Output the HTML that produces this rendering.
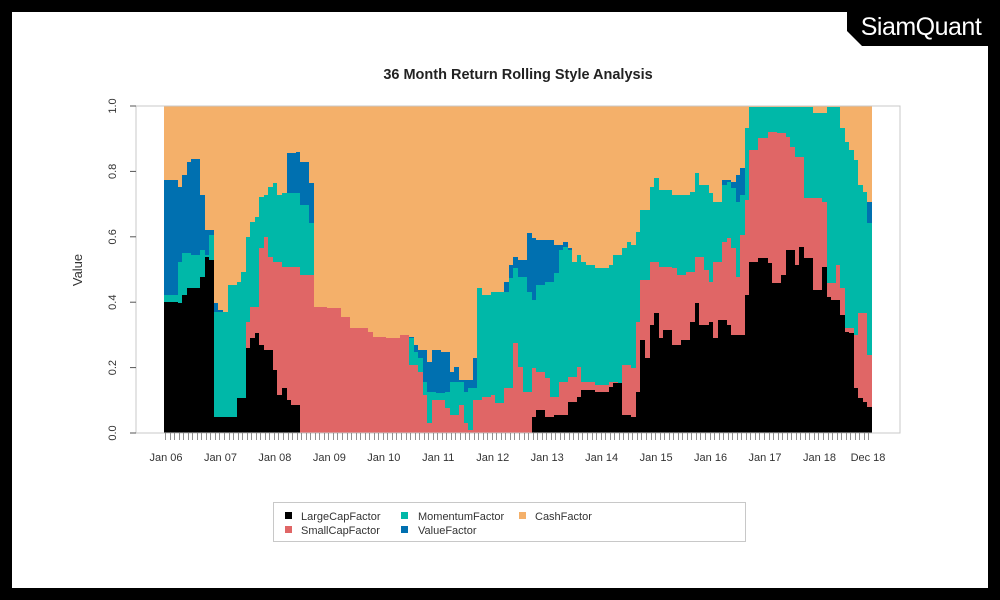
<!DOCTYPE html>
<html><head><meta charset="utf-8">
<style>
html,body{margin:0;padding:0;background:#000;}
#c{position:relative;width:1000px;height:600px;overflow:hidden;background:#000;font-family:"Liberation Sans",Arial,sans-serif;}
#bars rect{shape-rendering:crispEdges;}
</style></head>
<body><div id="c">
<svg id="s" width="1000" height="600" xmlns="http://www.w3.org/2000/svg" style="position:absolute;left:0;top:0">
<rect x="12" y="12" width="976" height="576" fill="#fff"/>
<polygon points="847,0 1000,0 1000,46 862,46 847,31" fill="#000"/>
<text x="921" y="35" text-anchor="middle" font-family="Liberation Sans, sans-serif" font-size="25" fill="#fff" letter-spacing="-0.5">SiamQuant</text>
<text x="518" y="79" text-anchor="middle" font-size="14.5" font-weight="bold" fill="#222">36 Month Return Rolling Style Analysis</text>
<g id="bars"></g>
<rect x="136" y="106" width="764" height="327" fill="none" stroke="#c8c8c8" stroke-width="1"/>
<g id="ax" font-size="11" fill="#333"></g>
<text transform="translate(82,270) rotate(-90)" text-anchor="middle" font-size="13" fill="#333">Value</text>
<rect x="273.5" y="502.5" width="472" height="39" fill="#fff" stroke="#c8c8c8"/>
<g font-size="11" fill="#333">
<rect x="285" y="512" width="7" height="7" fill="#000"/><text x="301" y="520">LargeCapFactor</text>
<rect x="285" y="526" width="7" height="7" fill="#e06666"/><text x="301" y="534">SmallCapFactor</text>
<rect x="401" y="512" width="7" height="7" fill="#00b8a8"/><text x="418" y="520">MomentumFactor</text>
<rect x="401" y="526" width="7" height="7" fill="#0070b0"/><text x="418" y="534">ValueFactor</text>
<rect x="519" y="512" width="7" height="7" fill="#f4b06a"/><text x="535" y="520">CashFactor</text>
</g>
</svg>
</div>
<script>
var offs={1:[140,95],2:[380,95],3:[630,95]};
function conv(a){return a.map(function(t){var o=offs[t[0]];var X=o[0]+t[1]/3;var Y=t[2]>=9000?9999:o[1]+t[2]/3;return [(X-164)/4.538,Y];});}
var B1=conv([[1,73,620],[1,110,625],[1,120,645],[1,128,600],[1,140,578],[1,185,545],[1,195,485],[1,210,495],[1,220,965],[1,290,910],[1,318,760],[1,330,730],[1,345,715],[1,360,750],[1,375,765],[1,400,825],[1,410,900],[1,425,880],[1,440,915],[1,455,930],[1,480,1013],
[2,455,965],[2,470,945],[2,500,965],[2,520,960],[2,565,920],[2,590,905],[2,610,885],[2,640,890],[2,680,875],[2,700,865],[2,730,960],
[3,0,965],[3,20,890],[3,35,735],[3,45,790],[3,60,690],[3,75,655],[3,90,730],[3,105,705],[3,125,750],[3,150,735],[3,180,680],[3,200,625],[3,215,690],[3,230,680],[3,245,730],[3,265,675],[3,290,690],[3,310,720],[3,330,720],[3,345,600],[3,360,500],[3,390,490],[3,410,505],[3,425,565],[3,455,540],[3,470,465],[3,495,510],[3,510,455],[3,525,490],[3,550,585],[3,570,570],[3,580,515],[3,590,605],[3,610,615],[3,630,660],[3,640,710],[3,655,715],[3,670,880],[3,685,910],[3,700,920],[3,715,935]]);
var B2=conv([[1,73,9999],[1,318,680],[1,330,635],[1,355,460],[1,375,425],[1,385,485],[1,400,500],[1,420,515],[1,480,540],[1,520,635],[1,560,640],[1,600,665],[1,630,700],[1,680,710],[1,700,725],[1,735,730],
[2,60,720],[2,85,810],[2,110,830],[2,130,900],[2,145,985],[2,160,915],[2,195,940],[2,215,960],[2,235,930],[2,250,985],[2,265,1005],[2,280,915],[2,300,905],[2,330,900],[2,345,925],[2,375,880],[2,400,745],[2,415,815],[2,430,890],[2,450,820],[2,470,830],[2,490,850],[2,510,905],[2,540,860],[2,570,845],[2,595,815],[2,610,860],[2,640,870],[2,680,860],[2,720,880],[2,730,810],
[3,0,820],[3,20,680],[3,35,555],[3,60,500],[3,80,515],[3,120,520],[3,140,540],[3,170,530],[3,200,485],[3,220,525],[3,240,560],[3,255,500],[3,270,440],[3,285,430],[3,300,460],[3,320,545],[3,330,420],[3,345,315],[3,360,165],[3,385,130],[3,410,110],[3,440,115],[3,465,125],[3,480,155],[3,495,185],[3,515,215],[3,525,310],[3,550,310],[3,570,320],[3,585,350],[3,590,565],[3,620,510],[3,630,580],[3,645,700],[3,670,720],[3,690,655],[3,710,660],[3,715,780]]);
var B3=conv([[1,73,600],[1,110,615],[1,115,500],[1,130,475],[1,155,480],[1,185,465],[1,195,480],[1,205,420],[1,220,650],[1,265,570],[1,290,560],[1,305,530],[1,320,425],[1,330,380],[1,345,365],[1,360,305],[1,375,300],[1,390,275],[1,405,265],[1,410,300],[1,430,295],[1,480,330],[1,500,330],[1,510,385],[1,520,9999],
[2,85,730],[2,100,770],[2,110,790],[2,130,860],[2,140,890],[2,175,895],[2,195,890],[2,205,860],[2,235,860],[2,250,890],[2,270,880],[2,285,835],[2,292,580],[2,310,600],[2,330,590],[2,370,590],[2,380,560],[2,390,550],[2,405,520],[2,420,545],[2,435,590],[2,455,615],[2,470,570],[2,495,560],[2,520,535],[2,540,465],[2,555,455],[2,565,465],[2,575,500],[2,590,480],[2,605,500],[2,620,510],[2,645,520],[2,680,510],[2,700,480],[2,725,460],[2,740,440],[2,760,420],
[3,0,450],[3,20,410],[3,35,345],[3,65,275],[3,75,250],[3,90,285],[3,125,300],[3,180,290],[3,195,235],[3,210,270],[3,240,295],[3,255,320],[3,270,270],[3,285,260],[3,300,280],[3,320,320],[3,325,390],[3,335,300],[3,345,100],[3,355,60],[3,365,35],[3,470,35],[3,550,55],[3,590,35],[3,630,100],[3,640,140],[3,655,165],[3,670,195],[3,685,270],[3,700,290],[3,710,385]]);
var B4=conv([[1,73,255],[1,110,275],[1,125,240],[1,140,200],[1,155,192],[1,185,300],[1,195,405],[1,220,625],[1,235,645],[1,250,9999],[1,440,175],[1,460,170],[1,480,200],[1,510,265],[1,520,9999],
[2,85,725],[2,100,750],[2,120,765],[2,140,800],[2,160,765],[2,185,770],[2,205,775],[2,215,830],[2,230,815],[2,240,855],[2,280,790],[2,292,9999],[2,375,560],[2,390,510],[2,405,485],[2,420,495],[2,440,415],[2,455,430],[2,475,435],[2,500,435],[2,520,450],[2,550,440],[2,560,460],[2,575,9999],
[3,0,9999],[3,275,255],[3,300,260],[3,320,240],[3,335,220],[3,345,100],[3,355,35],[3,385,9999],[3,470,35],[3,505,9999],[3,705,320],[3,727,320]]);
function val(k,m){var v=k[0][1];for(var i=0;i<k.length;i++){if(k[i][0]<=m+0.5)v=k[i][1];else break;}return v;}
var NS="http://www.w3.org/2000/svg",g=document.getElementById('bars');
function rect(x,y,w,h,f){var r=document.createElementNS(NS,'rect');r.setAttribute('x',x);r.setAttribute('y',y);r.setAttribute('width',w);r.setAttribute('height',h);r.setAttribute('fill',f);g.appendChild(r);}
var W=4.538;
rect(164,106,156*W,327,'#f4b06a');
var cols=['#0070b0','#00b8a8','#e06666','#000'];
for(var m=0;m<156;m++){
 var t1=Math.min(val(B1,m),433),t2=Math.min(val(B2,m),t1),t3=Math.min(val(B3,m),t2),t4=Math.min(val(B4,m),t3);
 var x=Math.round(164+m*W),x2=Math.round(164+(m+1)*W),tops=[t4,t3,t2,t1];
 for(var i=0;i<4;i++){var t=Math.round(Math.max(tops[i],106));if(t<433)rect(x,t,x2-x,433-t,cols[i]);}
}
var ax=document.getElementById('ax');
function el(n,a,txt){var e=document.createElementNS(NS,n);for(var k in a)e.setAttribute(k,a[k]);if(txt)e.textContent=txt;ax.appendChild(e);}
for(var i=0;i<=5;i++){var y=433-i*327/5;el('line',{x1:130,x2:136,y1:y,y2:y,stroke:'#555'});
 el('text',{transform:'translate(116,'+y+') rotate(-90)','text-anchor':'middle'},(i/5).toFixed(1));}
for(var m=0;m<156;m++){var x=Math.round(164+m*W)+1.5;el('line',{x1:x,x2:x,y1:433,y2:440,stroke:'#777','stroke-width':0.8});}
var labs=['Jan 06','Jan 07','Jan 08','Jan 09','Jan 10','Jan 11','Jan 12','Jan 13','Jan 14','Jan 15','Jan 16','Jan 17','Jan 18'];
for(var i=0;i<labs.length;i++){el('text',{x:166+i*12*W,y:461,'text-anchor':'middle'},labs[i]);}
el('text',{x:868,y:461,'text-anchor':'middle'},'Dec 18');
</script>
</body></html>
